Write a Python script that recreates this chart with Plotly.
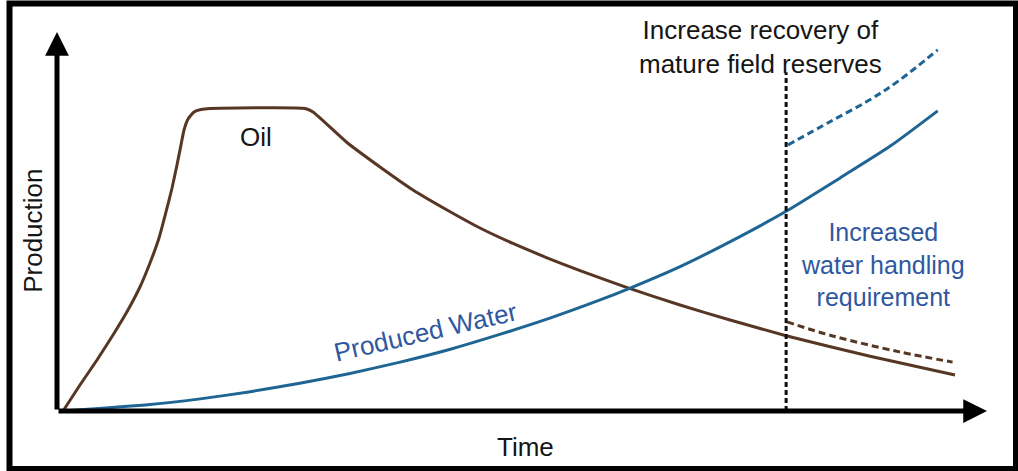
import plotly.graph_objects as go

# ---- data (time / production in arbitrary units) ----
oil_time = [0.65, 2.47, 4.30, 6.02, 7.63, 8.92, 10.0, 10.97, 11.72, 12.37, 12.90, 13.33,
            13.66, 14.09, 14.73, 15.48, 16.45, 26.67, 27.53, 31.18, 34.73, 38.28, 41.94,
            45.48, 49.03, 52.69, 56.24, 61.08, 66.99, 72.37, 78.39, 87.42, 96.56]
oil_prod = [0, 6.86, 13.46, 20.05, 26.65, 32.72, 39.05, 45.65, 52.51, 58.84, 64.91, 70.18,
            74.14, 77.04, 78.89, 79.55, 79.82, 79.82, 78.89, 70.84, 64.38, 58.31, 53.03,
            48.28, 44.20, 40.42, 37.02, 32.74, 27.97, 24.01, 19.87, 14.43, 9.50]

water_time = [0.65, 10.0, 15.4, 20.8, 26.1, 31.5, 36.9, 42.3, 47.6, 53.0, 58.4, 61.3,
              67.0, 72.4, 78.4, 84.2, 89.6, 94.7]
water_prod = [0, 1.7, 3.2, 5.1, 7.3, 9.9, 12.9, 16.3, 20.2, 24.5, 29.3, 32.1,
              38.1, 44.7, 52.7, 61.5, 69.9, 79.2]

# enhanced recovery scenario (dashed)
oil_eor_time = [78.5, 83.4, 90.6, 96.3]
oil_eor_prod = [23.5, 19.8, 15.6, 12.9]
water_eor_time = [78.6, 83.1, 87.4, 90.6, 94.7]
water_eor_prod = [70.2, 76.3, 82.1, 87.3, 95.3]

intervention_time = 78.4
intervention_top = 89.4

OIL = "#573624"
WATER = "#1f6594"
TEXT_BLUE = "#2f58a0"
FONT = "Liberation Sans, Arial, sans-serif"

fig = go.Figure()

fig.add_trace(go.Scatter(x=oil_time, y=oil_prod, mode="lines",
                         line=dict(color=OIL, width=3, shape="spline", smoothing=0.5)))
fig.add_trace(go.Scatter(x=water_time, y=water_prod, mode="lines",
                         line=dict(color=WATER, width=3, shape="spline", smoothing=0.6)))
fig.add_trace(go.Scatter(x=oil_eor_time, y=oil_eor_prod, mode="lines",
                         line=dict(color=OIL, width=3, dash="7px,4px", shape="spline")))
fig.add_trace(go.Scatter(x=water_eor_time, y=water_eor_prod, mode="lines",
                         line=dict(color=WATER, width=3, dash="7px,4px", shape="spline")))
fig.add_trace(go.Scatter(x=[intervention_time, intervention_time], y=[0, intervention_top],
                         mode="lines", line=dict(color="#111111", width=3, dash="5px,3px")))

# axes drawn as arrows
fig.add_annotation(x=100, y=0, ax=0, ay=0, xref="x", yref="y", axref="x", ayref="y",
                   showarrow=True, arrowhead=2, arrowsize=0.95, arrowwidth=5,
                   arrowcolor="black", text="")
fig.add_annotation(x=0, y=100, ax=0, ay=0, xref="x", yref="y", axref="x", ayref="y",
                   showarrow=True, arrowhead=2, arrowsize=0.95, arrowwidth=5,
                   arrowcolor="black", text="")

def label(text, x, y, color="#151515", angle=0, size=26):
    fig.add_annotation(x=x, y=y, text=text, showarrow=False, textangle=angle,
                       font=dict(family=FONT, size=size, color=color),
                       xanchor="center", yanchor="middle")

label("Oil", 21.4, 72.3)
label("Production", -2.6, 47.5, angle=-90)
label("Time", 50.4, -9.5)
label("Produced Water", 39.6, 20.8, color=TEXT_BLUE, angle=-13)
label("Increased<br>water handling<br>requirement", 88.8, 38.6, color=TEXT_BLUE, size=25)
label("Increase recovery of<br>mature field reserves", 75.6, 96.0, size=26)

# frame around the picture
fig.add_shape(type="rect", xref="paper", yref="paper",
              x0=9.5 / 1018, x1=1016 / 1018, y0=1 - 469 / 471, y1=1 - 3.5 / 471,
              line=dict(color="black", width=6))

fig.update_layout(
    width=1018, height=471,
    margin=dict(l=0, r=0, t=0, b=0),
    plot_bgcolor="white", paper_bgcolor="white",
    showlegend=False,
    xaxis=dict(range=[-57 / 9.3, (1018 - 57) / 9.3], visible=False),
    yaxis=dict(range=[(411 - 471) / 3.79, 411 / 3.79], visible=False),
)

fig.write_html("out.html", config={"displayModeBar": False},
               post_script="document.body.style.margin='0';")
